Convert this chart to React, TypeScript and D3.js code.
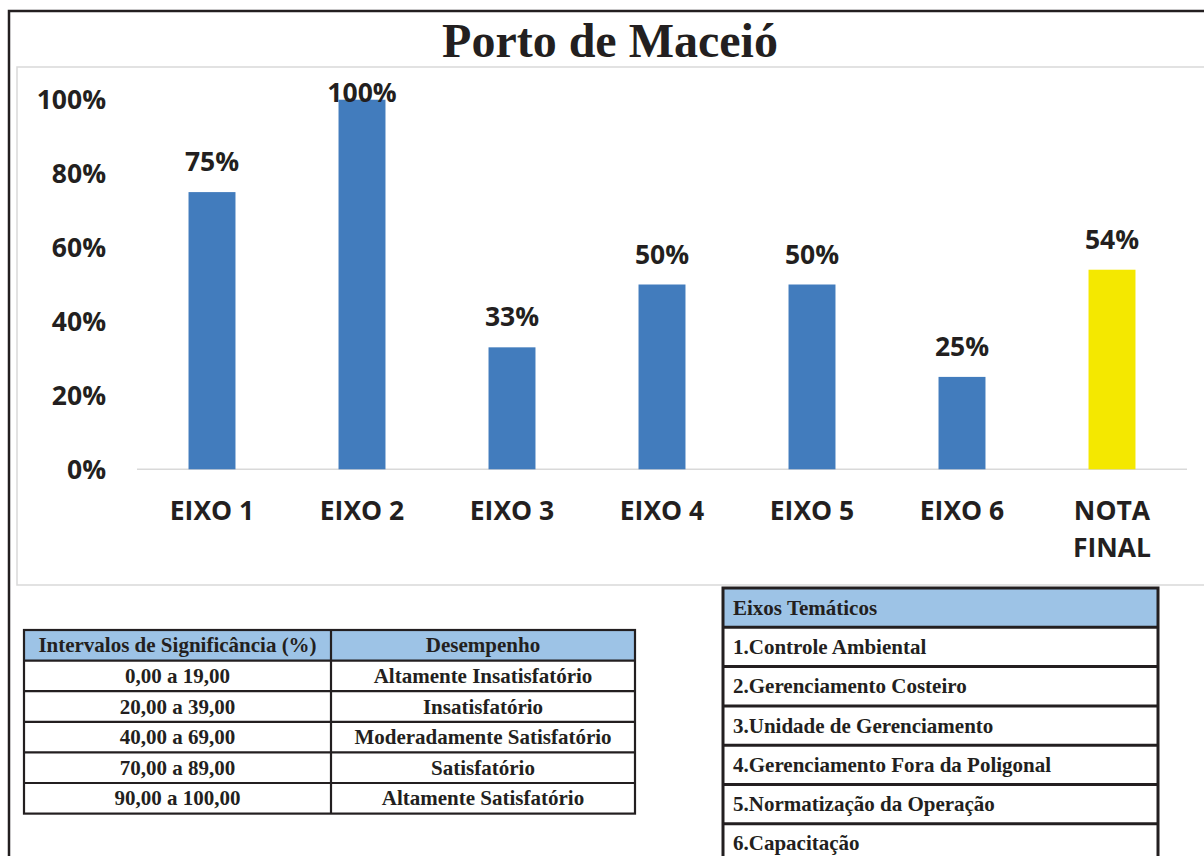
import React from "react";
import * as d3 from "d3";

const categories = ["EIXO 1", "EIXO 2", "EIXO 3", "EIXO 4", "EIXO 5", "EIXO 6", "NOTA FINAL"];
const values = [75, 100, 33, 50, 50, 25, 54];
const barColors = ["#427cbd", "#427cbd", "#427cbd", "#427cbd", "#427cbd", "#427cbd", "#f4e800"];
const yTicks = [0, 20, 40, 60, 80, 100];

const intervalHeader = ["Intervalos de Significância (%)", "Desempenho"];
const intervalRanges = ["0,00 a 19,00", "20,00 a 39,00", "40,00 a 69,00", "70,00 a 89,00", "90,00 a 100,00"];
const performance = [
  "Altamente Insatisfatório",
  "Insatisfatório",
  "Moderadamente Satisfatório",
  "Satisfatório",
  "Altamente Satisfatório",
];
const axesHeader = "Eixos Temáticos";
const axesList = [
  "1.Controle Ambiental",
  "2.Gerenciamento Costeiro",
  "3.Unidade de Gerenciamento",
  "4.Gerenciamento Fora da Poligonal",
  "5.Normatização da Operação",
  "6.Capacitação",
];

const TEXT = "#231f20";
const SANS = "'Open Sans', sans-serif";
const SERIF = "'Liberation Serif', 'Times New Roman', serif";

export default function App() {
  const x = d3.scaleBand<string>().domain(categories).range([137, 1187]).paddingInner(0.687).paddingOuter(0.3435);
  const y = d3.scaleLinear().domain([0, 100]).range([469.3, 99.7]);

  const lt = { x0: 24, x1: 331, x2: 635, top: 630, rowH: 30.6 };
  const ltRows = [intervalHeader, ...intervalRanges.map((r, i) => [r, performance[i]])];
  const rt = { x0: 723, x1: 1158, top: 588, rowH: 39.3 };
  const rtRows = [axesHeader, ...axesList];

  return (
    <svg width={1204} height={856} style={{ position: "absolute", left: 0, top: 0, background: "#fff" }}>
      <path d="M9,870 L9,11 L1220,11" fill="none" stroke={TEXT} strokeWidth={2.5} />
      <rect x={17} y={67} width={1200} height={518} fill="#fff" stroke="#d9d9d9" strokeWidth={1.5} />
      <text x={610} y={57} textAnchor="middle" fontFamily={SERIF} fontWeight="bold" fontSize={48} fill={TEXT}>
        Porto de Maceió
      </text>

      {yTicks.map((t) => (
        <text key={t} x={106} y={y(t)} dy="0.36em" textAnchor="end" fontFamily={SANS} fontWeight="bold" fontSize={26.5} fill={TEXT}>
          {t}%
        </text>
      ))}

      <line x1={137} x2={1187} y1={y(0)} y2={y(0)} stroke="#d9d9d9" strokeWidth={1.5} />

      {categories.map((c, i) => (
        <rect key={c} x={x(c)} y={y(values[i])} width={x.bandwidth()} height={y(0) - y(values[i])} fill={barColors[i]} />
      ))}

      {categories.map((c, i) => (
        <text
          key={c + "v"}
          x={(x(c) as number) + x.bandwidth() / 2}
          y={Math.max(y(values[i]) - 21, 102)}
          textAnchor="middle"
          fontFamily={SANS}
          fontWeight="bold"
          fontSize={26.5}
          fill={TEXT}
        >
          {values[i]}%
        </text>
      ))}

      {categories.map((c) => {
        const cx = (x(c) as number) + x.bandwidth() / 2;
        const words = c === "NOTA FINAL" ? ["NOTA", "FINAL"] : [c];
        return (
          <text key={c + "l"} textAnchor="middle" fontFamily={SANS} fontWeight="bold" fontSize={26.5} fill={TEXT}>
            {words.map((w, k) => (
              <tspan key={k} x={cx} y={520 + k * 37}>
                {w}
              </tspan>
            ))}
          </text>
        );
      })}

      <rect x={lt.x0} y={lt.top} width={lt.x2 - lt.x0} height={lt.rowH} fill="#9dc3e6" />
      {ltRows.map((row, r) => {
        const ty = lt.top + r * lt.rowH;
        return (
          <g key={"lt" + r}>
            <text x={(lt.x0 + lt.x1) / 2} y={ty + lt.rowH / 2 + 7} textAnchor="middle" fontFamily={SERIF} fontWeight="bold" fontSize={21} fill={TEXT}>
              {row[0]}
            </text>
            <text x={(lt.x1 + lt.x2) / 2} y={ty + lt.rowH / 2 + 7} textAnchor="middle" fontFamily={SERIF} fontWeight="bold" fontSize={21} fill={TEXT}>
              {row[1]}
            </text>
          </g>
        );
      })}
      {ltRows.slice(1).map((_, r) => (
        <line key={"lth" + r} x1={lt.x0} x2={lt.x2} y1={lt.top + (r + 1) * lt.rowH} y2={lt.top + (r + 1) * lt.rowH} stroke={TEXT} strokeWidth={2.2} />
      ))}
      <line x1={lt.x1} x2={lt.x1} y1={lt.top} y2={lt.top + ltRows.length * lt.rowH} stroke={TEXT} strokeWidth={2.2} />
      <rect x={lt.x0} y={lt.top} width={lt.x2 - lt.x0} height={ltRows.length * lt.rowH} fill="none" stroke={TEXT} strokeWidth={2.2} />

      <rect x={rt.x0} y={rt.top} width={rt.x1 - rt.x0} height={rt.rowH} fill="#9dc3e6" />
      {rtRows.map((row, r) => (
        <text key={"rt" + r} x={733} y={rt.top + r * rt.rowH + rt.rowH / 2 + 7} fontFamily={SERIF} fontWeight="bold" fontSize={21} fill={TEXT}>
          {row}
        </text>
      ))}
      {rtRows.slice(1).map((_, r) => (
        <line key={"rth" + r} x1={rt.x0} x2={rt.x1} y1={rt.top + (r + 1) * rt.rowH} y2={rt.top + (r + 1) * rt.rowH} stroke={TEXT} strokeWidth={3} />
      ))}
      <rect x={rt.x0} y={rt.top} width={rt.x1 - rt.x0} height={rtRows.length * rt.rowH} fill="none" stroke={TEXT} strokeWidth={3} />
    </svg>
  );
}
